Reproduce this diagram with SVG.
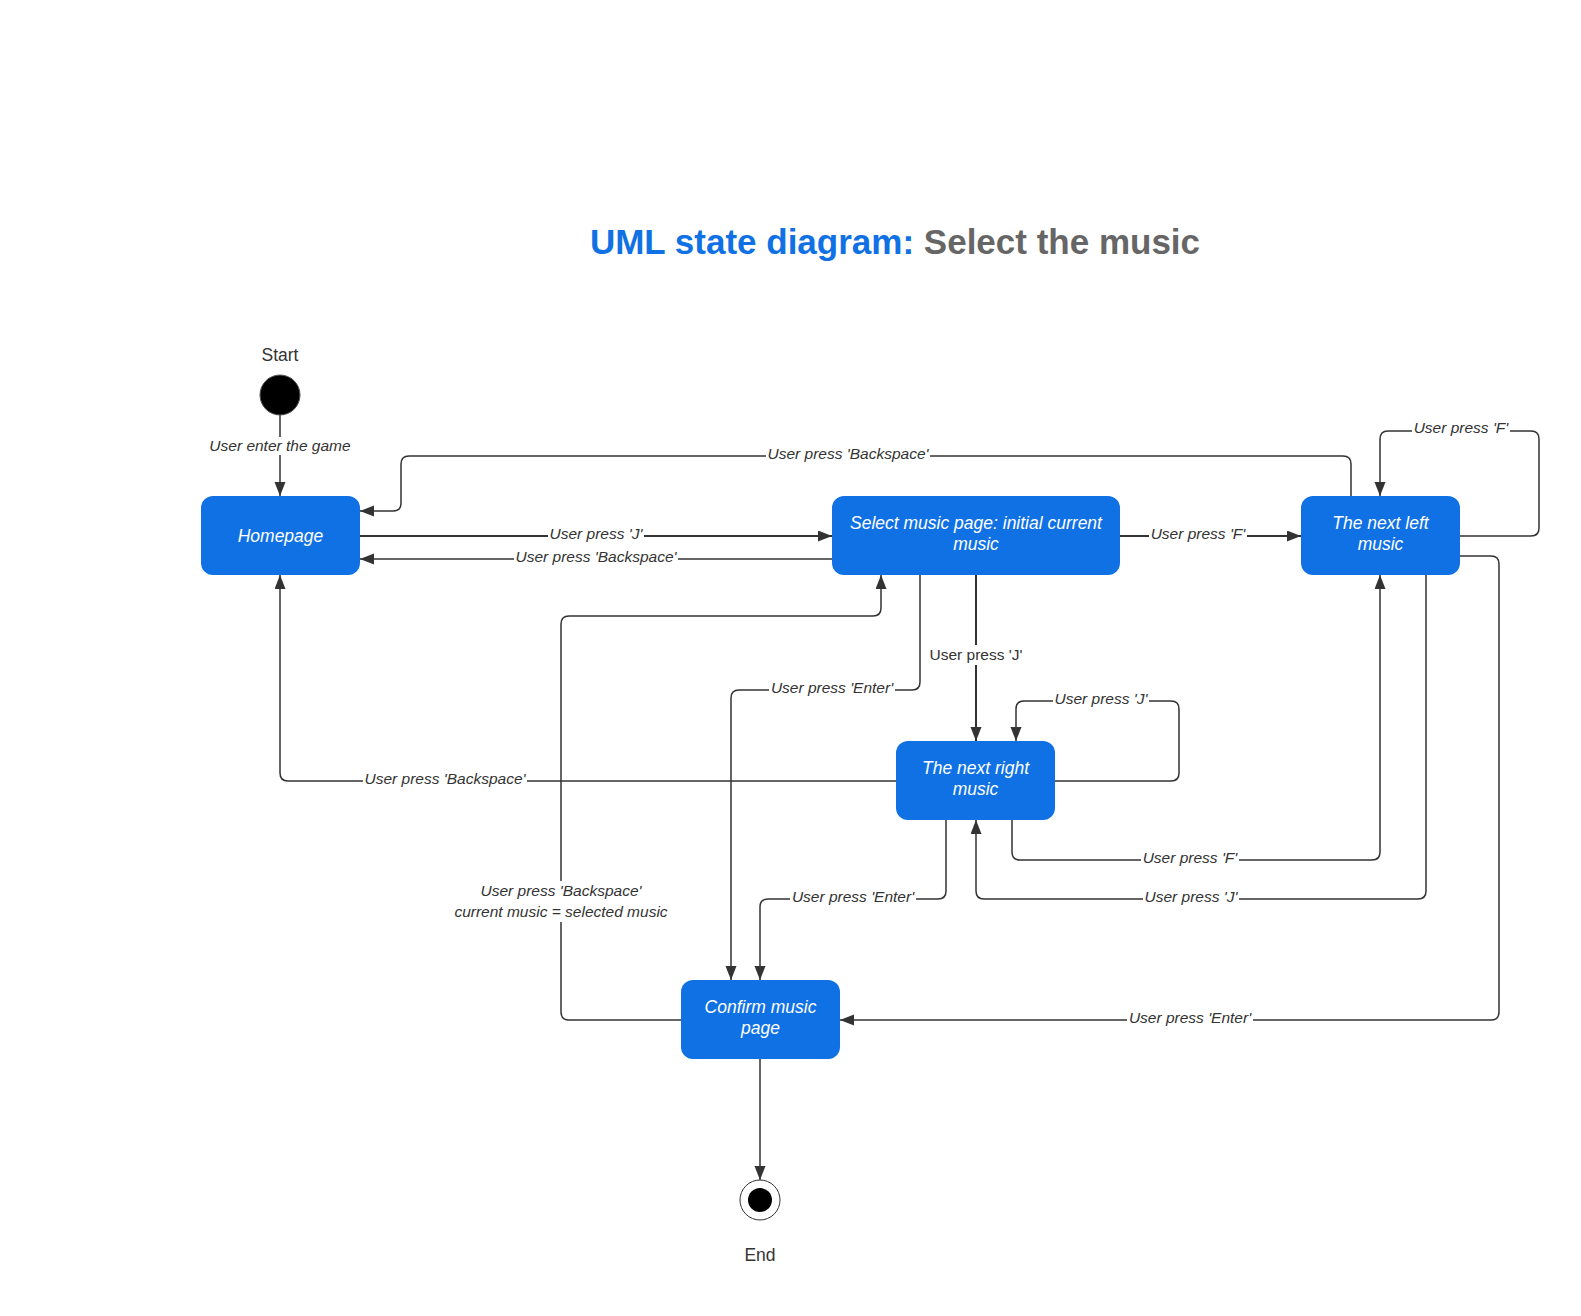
<svg xmlns="http://www.w3.org/2000/svg" width="1581" height="1316" viewBox="0 0 1581 1316">
<style>
.node{fill:#1071E5;}
.nt{font-family:"Liberation Sans",Arial,sans-serif;font-size:17.5px;font-style:italic;fill:#ffffff;text-anchor:middle;}
.ln{fill:none;stroke:#333333;stroke-width:1.5;}
.thick{stroke-width:2;}
.lb{font-family:"Liberation Sans",Arial,sans-serif;font-size:15.5px;font-style:italic;fill:#333333;text-anchor:middle;}
.lbn{font-family:"Liberation Sans",Arial,sans-serif;font-size:15.5px;fill:#333333;text-anchor:middle;}
.bg{fill:#ffffff;}
.pl{font-family:"Liberation Sans",Arial,sans-serif;font-size:17.5px;fill:#333333;text-anchor:middle;}
</style>
<defs>
<marker id="arr" markerUnits="userSpaceOnUse" markerWidth="16" markerHeight="13" refX="14" refY="5.5" orient="auto">
<path d="M0,0 L14,5.5 L0,11 z" fill="#333333"/>
</marker>
</defs>
<rect width="1581" height="1316" fill="#ffffff"/>
<text x="895" y="254" font-family="'Liberation Sans',Arial,sans-serif" font-size="35" font-weight="bold" text-anchor="middle"><tspan fill="#1071E5">UML state diagram:</tspan><tspan fill="#666666"> Select the music</tspan></text>

<g id="connectors">
<path class="ln" d="M280,415 V496" marker-end="url(#arr)"/>
<path class="ln" d="M1351,496 V464 Q1351,456 1343,456 H409 Q401,456 401,464 V503 Q401,511 393,511 H360" marker-end="url(#arr)"/>
<path class="ln thick" d="M360,536 H832" marker-end="url(#arr)"/>
<path class="ln" d="M832,559 H360" marker-end="url(#arr)"/>
<path class="ln thick" d="M1120,536 H1301" marker-end="url(#arr)"/>
<path class="ln" d="M1460,536 H1531 Q1539,536 1539,528 V439 Q1539,431 1531,431 H1388 Q1380,431 1380,439 V496" marker-end="url(#arr)"/>
<path class="ln" d="M681,1020 H569 Q561,1020 561,1012 V624 Q561,616 569,616 H873 Q881,616 881,608 V575" marker-end="url(#arr)"/>
<path class="ln" d="M920,575 V682 Q920,690 912,690 H739 Q731,690 731,698 V980" marker-end="url(#arr)"/>
<path class="ln thick" d="M976,575 V741" marker-end="url(#arr)"/>
<path class="ln" d="M1055,781 H1171 Q1179,781 1179,773 V709 Q1179,701 1171,701 H1024 Q1016,701 1016,709 V741" marker-end="url(#arr)"/>
<path class="ln" d="M896,781 H288 Q280,781 280,773 V575" marker-end="url(#arr)"/>
<path class="ln" d="M1012,820 V852 Q1012,860 1020,860 H1372 Q1380,860 1380,852 V575" marker-end="url(#arr)"/>
<path class="ln" d="M1426,575 V891 Q1426,899 1418,899 H984 Q976,899 976,891 V820" marker-end="url(#arr)"/>
<path class="ln" d="M946,820 V891 Q946,899 938,899 H768 Q760,899 760,907 V980" marker-end="url(#arr)"/>
<path class="ln" d="M1460,556 H1491 Q1499,556 1499,564 V1012 Q1499,1020 1491,1020 H840" marker-end="url(#arr)"/>
<path class="ln" d="M760,1059 V1180" marker-end="url(#arr)"/>

<g id="labels">
<rect class="bg" x="208" y="437" width="144" height="18"/>
<text class="lb" x="280" y="451">User enter the game</text>
<rect class="bg" x="766" y="446" width="164" height="18"/>
<text class="lb" x="848" y="459">User press 'Backspace'</text>
<rect class="bg" x="548" y="526" width="96" height="18"/>
<text class="lb" x="596" y="539">User press 'J'</text>
<rect class="bg" x="514" y="549" width="164" height="18"/>
<text class="lb" x="596" y="562">User press 'Backspace'</text>
<rect class="bg" x="1149" y="526" width="98" height="18"/>
<text class="lb" x="1198" y="539">User press 'F'</text>
<rect class="bg" x="1412" y="420" width="98" height="18"/>
<text class="lb" x="1461" y="433">User press 'F'</text>
<rect class="bg" x="453" y="881" width="216" height="41"/>
<text class="lb" x="561" y="896">User press 'Backspace'</text>
<text class="lb" x="561" y="917">current music = selected music</text>
<rect class="bg" x="769" y="680" width="126" height="18"/>
<text class="lb" x="832" y="693">User press 'Enter'</text>
<rect class="bg" x="927" y="645" width="98" height="20"/>
<text class="lbn" x="976" y="660">User press 'J'</text>
<rect class="bg" x="1053" y="691" width="96" height="18"/>
<text class="lb" x="1101" y="704">User press 'J'</text>
<rect class="bg" x="363" y="771" width="164" height="18"/>
<text class="lb" x="445" y="784">User press 'Backspace'</text>
<rect class="bg" x="1141" y="850" width="98" height="18"/>
<text class="lb" x="1190" y="863">User press 'F'</text>
<rect class="bg" x="1143" y="889" width="96" height="18"/>
<text class="lb" x="1191" y="902">User press 'J'</text>
<rect class="bg" x="790" y="889" width="126" height="18"/>
<text class="lb" x="853" y="902">User press 'Enter'</text>
<rect class="bg" x="1127" y="1010" width="126" height="18"/>
<text class="lb" x="1190" y="1023">User press 'Enter'</text>
</g>
</g>

<g id="start">
<circle cx="280" cy="395" r="20" fill="#000000" stroke="#555555" stroke-width="1"/>
<text class="pl" x="280" y="361">Start</text>
</g>
<g id="homepage">
<rect class="node" x="201" y="496" width="159" height="79" rx="12"/>
<text class="nt" x="280.5" y="542">Homepage</text>
</g>
<g id="select">
<rect class="node" x="832" y="496" width="288" height="79" rx="12"/>
<text class="nt" x="976" y="529">Select music page: initial current</text>
<text class="nt" x="976" y="550">music</text>
</g>
<g id="nextleft">
<rect class="node" x="1301" y="496" width="159" height="79" rx="12"/>
<text class="nt" x="1380.5" y="529">The next left</text>
<text class="nt" x="1380.5" y="550">music</text>
</g>
<g id="nextright">
<rect class="node" x="896" y="741" width="159" height="79" rx="12"/>
<text class="nt" x="975.5" y="774">The next right</text>
<text class="nt" x="975.5" y="795">music</text>
</g>
<g id="confirm">
<rect class="node" x="681" y="980" width="159" height="79" rx="12"/>
<text class="nt" x="760.5" y="1013">Confirm music</text>
<text class="nt" x="760.5" y="1034">page</text>
</g>
<g id="end">
<circle cx="760" cy="1200" r="20" fill="#ffffff" stroke="#333333" stroke-width="1"/>
<circle cx="760" cy="1200" r="12" fill="#000000"/>
<text class="pl" x="760" y="1261">End</text>
</g>
</svg>
